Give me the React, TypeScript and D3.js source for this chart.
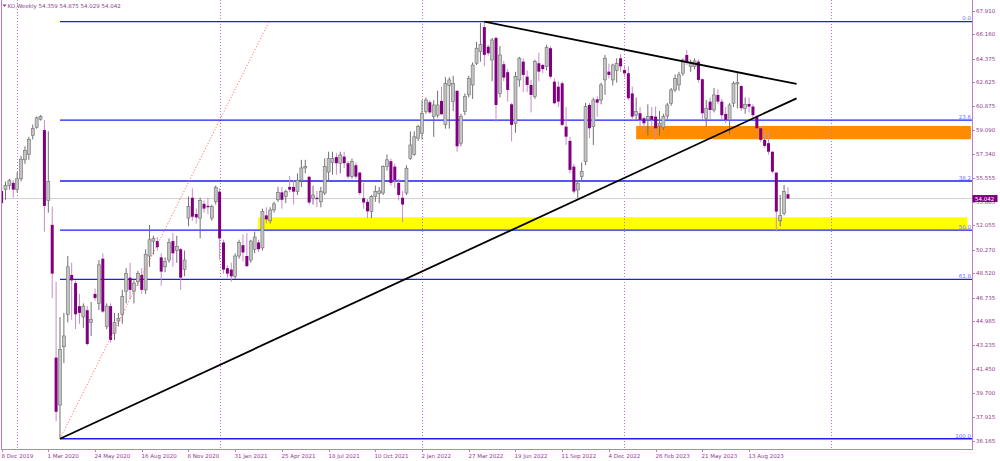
import React from "react";
import * as d3 from "d3";

const W = 1000;
const H = 461;

// Weekly bars, bar 0 = week of 8 Dec 2019. [open, high, low, close]
type Bar = [number, number, number, number];
const bars2019_2020: Bar[] = [
  [54.6, 54.9, 53.5, 53.7], [54.7, 55.3, 53.95, 55.0], [55.0, 55.5, 54.7, 55.4], [55.2, 55.4, 54.1, 54.7],
  [54.7, 56.0, 54.5, 55.5], [55.5, 57.2, 55.3, 56.95], [56.9, 57.9, 56.6, 57.6], [57.3, 58.6, 56.9, 58.4],
  [58.7, 59.5, 58.4, 59.2], [59.3, 60.1, 59.2, 60.0], [59.9, 60.2, 59.8, 60.1], [59.1, 59.85, 51.6, 53.5],
  [53.9, 59.0, 53.0, 55.3], [52.1, 53.45, 46.7, 48.5], [42.3, 47.9, 37.6, 38.3], [38.8, 45.3, 36.31, 42.9],
  [43.1, 45.6, 41.9, 43.9], [45.5, 49.8, 44.9, 49.0], [48.4, 49.3, 45.1, 48.0], [47.8, 48.0, 44.4, 45.5],
  [46.1, 47.0, 44.8, 45.6], [45.3, 46.3, 44.5, 46.1], [45.8, 46.1, 43.2, 43.3], [44.9, 46.4, 43.9, 45.1],
  [47.0, 47.4, 46.5, 46.7], [46.3, 49.5, 45.8, 49.15], [49.6, 50.0, 45.6, 45.7], [44.6, 46.3, 44.4, 46.1],
  [46.1, 46.3, 43.4, 43.6], [44.1, 45.6, 43.6, 44.9], [45.0, 45.6, 44.6, 45.2], [45.5, 47.3, 44.8, 46.8],
  [47.2, 48.9, 46.3, 48.5], [48.2, 49.3, 46.6, 47.3], [47.2, 48.0, 46.3, 47.8], [47.9, 48.7, 47.6, 48.5],
  [48.4, 48.9, 47.0, 47.3], [47.3, 50.3, 47.0, 49.9], [49.8, 52.1, 49.0, 51.0], [50.9, 51.3, 49.9, 51.1],
  [50.9, 51.2, 50.2, 50.45], [49.7, 50.0, 47.6, 48.65], [49.0, 49.7, 48.6, 49.4], [49.5, 51.1, 49.3, 50.8],
  [50.9, 51.5, 49.0, 50.0], [50.2, 51.3, 49.3, 50.5], [50.3, 50.4, 47.3, 48.2], [48.8, 50.2, 48.3, 49.5],
  [52.6, 54.2, 52.0, 53.45], [54.1, 54.8, 52.4, 52.7], [52.9, 53.3, 52.2, 52.65], [52.6, 54.1, 51.1, 53.9],
  [53.65, 53.9, 53.0, 53.3], [53.5, 54.1, 52.9, 53.4], [52.6, 53.6, 52.4, 53.45], [53.8, 55.0, 53.6, 54.85],
];
const bars2021: Bar[] = [
  [54.55, 54.8, 49.5, 51.1], [50.8, 51.0, 48.5, 48.8], [48.9, 49.1, 48.2, 48.5], [48.8, 49.3, 47.9, 48.3],
  [48.3, 50.0, 48.1, 49.8], [49.8, 51.0, 49.6, 50.8], [50.6, 51.4, 49.4, 50.06], [49.8, 51.5, 49.0, 49.05],
  [49.5, 51.0, 49.3, 50.9], [50.3, 51.6, 50.0, 51.2], [50.8, 51.0, 50.1, 50.3], [50.4, 53.3, 50.2, 53.1],
  [52.8, 53.4, 52.2, 52.5], [52.4, 53.4, 52.2, 53.2], [53.2, 53.8, 53.0, 53.65], [53.95, 54.9, 53.8, 54.5],
  [54.5, 54.9, 53.3, 53.95], [54.2, 54.7, 53.7, 54.55], [54.9, 55.7, 54.5, 54.7], [54.9, 55.4, 53.6, 54.55],
  [54.55, 55.9, 54.3, 55.4], [55.4, 56.9, 54.9, 56.3], [56.3, 56.9, 55.9, 56.4], [55.65, 55.7, 53.6, 53.75],
  [54.07, 55.0, 53.6, 54.3], [54.1, 54.6, 53.4, 54.0], [53.8, 54.9, 53.4, 54.55], [54.45, 57.0, 54.3, 56.4],
  [56.0, 57.5, 55.3, 57.0], [56.7, 57.5, 55.8, 57.0], [57.1, 57.4, 55.8, 56.65], [56.65, 57.5, 55.9, 57.26],
  [57.14, 57.5, 56.3, 56.65], [56.65, 56.8, 55.5, 55.66], [55.66, 57.0, 55.5, 56.77], [56.5, 56.7, 55.5, 55.66],
  [55.96, 56.0, 54.3, 54.45], [54.07, 55.2, 53.3, 53.75], [53.8, 54.0, 52.6, 53.1], [53.08, 54.3, 52.6, 54.2],
  [54.2, 55.0, 53.8, 54.56], [54.4, 54.9, 53.7, 54.6], [54.45, 56.5, 54.3, 56.4], [56.4, 57.3, 56.1, 56.9],
  [56.8, 57.0, 55.0, 55.2], [56.4, 56.6, 54.8, 55.4], [55.2, 55.5, 53.9, 54.3], [54.1, 54.6, 52.3, 53.6],
  [54.45, 56.5, 54.3, 56.28], [57.0, 59.0, 56.9, 58.0], [57.3, 59.0, 57.2, 58.6], [58.5, 59.5, 58.3, 59.35],
];
const bars2022: Bar[] = [
  [58.86, 61.3, 58.4, 60.34], [60.46, 61.5, 60.3, 61.32], [61.15, 61.3, 60.3, 60.4], [60.1, 61.3, 58.6, 60.95],
  [60.2, 62.0, 60.0, 60.95], [61.25, 62.3, 60.2, 60.27], [59.5, 63.0, 59.2, 62.55], [62.4, 63.0, 59.2, 62.8],
  [61.2, 63.1, 60.5, 62.55], [62.0, 62.0, 57.5, 57.9], [58.13, 60.3, 57.9, 60.09], [60.46, 61.8, 60.2, 61.57],
  [61.7, 63.1, 61.5, 62.9], [62.43, 64.1, 61.4, 63.9], [64.03, 65.6, 63.9, 65.14], [64.9, 67.0, 64.15, 65.4],
  [66.7, 67.1, 63.8, 64.65], [65.25, 65.4, 64.6, 64.77], [64.27, 65.9, 62.7, 65.75], [65.9, 66.0, 59.7, 60.95],
  [61.8, 65.3, 61.5, 64.64], [63.96, 64.2, 62.7, 62.97], [63.37, 63.6, 61.2, 62.06], [61.0, 61.1, 58.25, 59.48],
  [59.6, 63.4, 58.9, 63.04], [62.8, 64.5, 62.3, 64.4], [64.15, 64.4, 61.9, 63.17], [63.04, 63.5, 61.9, 62.43],
  [62.43, 62.8, 60.4, 61.69], [61.57, 64.3, 61.4, 64.15], [64.03, 64.8, 62.7, 63.41], [63.9, 64.0, 63.3, 63.6],
  [63.78, 65.4, 63.5, 65.19], [65.14, 65.3, 62.9, 63.04], [62.67, 62.9, 61.0, 61.08], [62.3, 62.7, 60.8, 61.2],
  [62.55, 62.7, 59.4, 59.48], [59.35, 60.8, 58.0, 58.61], [58.3, 58.6, 55.9, 56.16], [56.4, 56.6, 54.4, 54.56],
  [54.68, 55.4, 54.07, 55.18], [55.66, 56.7, 55.3, 56.03], [56.77, 61.1, 56.5, 60.83], [60.95, 61.1, 58.5, 59.23],
  [59.35, 61.5, 58.0, 61.32], [61.37, 61.6, 60.09, 61.12], [61.32, 62.6, 61.0, 62.43], [62.8, 64.64, 61.7, 64.4],
  [63.41, 64.0, 62.9, 63.17], [62.8, 64.0, 62.4, 63.9], [63.5, 64.4, 62.6, 64.0], [64.4, 64.7, 63.4, 63.8],
];
const bars2023: Bar[] = [
  [63.53, 63.9, 63.0, 63.29], [63.29, 63.8, 61.3, 61.45], [61.8, 62.3, 59.85, 60.09], [60.2, 61.5, 59.85, 60.46],
  [60.34, 60.8, 59.3, 59.85], [59.97, 60.1, 59.0, 59.6], [59.9, 61.0, 58.7, 60.1], [60.14, 60.8, 59.1, 59.85],
  [60.09, 60.83, 58.37, 59.23], [59.4, 60.5, 58.7, 59.6], [59.3, 60.3, 59.1, 60.09], [60.14, 61.1, 59.9, 60.95],
  [61.08, 62.2, 60.9, 62.06], [62.06, 63.2, 61.9, 62.92], [62.43, 63.4, 62.0, 63.17], [63.29, 64.4, 63.1, 64.27],
  [64.64, 65.0, 63.9, 64.07], [63.78, 64.3, 63.4, 64.07], [63.8, 64.4, 63.6, 64.2], [64.15, 64.3, 62.6, 62.8],
  [62.85, 62.9, 59.9, 60.34], [59.97, 61.32, 59.35, 60.71], [61.2, 61.5, 59.9, 60.58], [60.58, 62.2, 60.4, 61.69],
  [61.69, 62.1, 61.0, 61.2], [61.2, 61.4, 59.9, 60.2], [60.29, 60.8, 59.6, 59.85], [59.85, 61.1, 58.8, 60.95],
  [61.08, 62.7, 60.8, 62.55], [62.5, 63.3, 60.7, 62.6], [62.35, 62.4, 60.5, 60.71], [60.7, 61.5, 60.3, 61.0],
  [61.02, 61.5, 60.4, 60.83], [60.83, 61.0, 59.9, 60.2], [60.09, 60.2, 59.1, 59.23], [59.23, 59.4, 58.2, 58.37],
  [58.37, 59.0, 57.8, 57.93], [58.13, 59.0, 57.3, 57.5], [57.5, 57.5, 55.9, 56.03], [55.96, 55.96, 51.6, 53.08],
  [52.4, 54.3, 52.0, 52.8], [52.96, 55.05, 52.8, 54.56], [54.359, 54.875, 54.029, 54.042],
];

const priceTicks = ["67.910", "66.160", "64.375", "62.625", "60.875", "59.090", "57.340", "55.555", "53.805",
  "52.055", "50.270", "48.520", "46.735", "44.985", "43.235", "41.450", "39.700", "37.915", "36.165"];
const dateTicks = ["8 Dec 2019", "1 Mar 2020", "24 May 2020", "16 Aug 2020", "8 Nov 2020", "31 Jan 2021",
  "25 Apr 2021", "18 Jul 2021", "10 Oct 2021", "2 Jan 2022", "27 Mar 2022", "19 Jun 2022", "11 Sep 2022",
  "4 Dec 2022", "26 Feb 2023", "21 May 2023", "13 Aug 2023"];
const weeksPerDateTick = 12;
const yearStartBars = [4, 56, 108, 160, 213];

// Fibonacci retracement
const fibHigh = 67.1;
const fibLow = 36.31;
const fibStartBar = 15;
const fibLevels = [0, 23.6, 38.2, 50, 61.8, 100];
const fibLabels = ["0.0", "23.6", "38.2", "50.0", "61.8", "100.0"];

// Trend lines [bar, price]
const supportLine: [number, number][] = [[15, 36.31], [204.2, 61.44]];
const resistanceLine: [number, number][] = [[124, 67.1], [204.2, 62.5]];
const fibDiagonal: [number, number][] = [[15, 36.31], [68.7, 67.1]];

// Zones [startBar, endBar, lowPrice, highPrice]
const orangeZone = [163, 249, 58.42, 59.4];
const yellowZone = [65.9, 248.1, 51.77, 52.66];

const header = "KO,Weekly  54.359 54.875 54.029 54.042";
const lastPrice = "54.042";

const candles: Bar[] = [...bars2019_2020, ...bars2021, ...bars2022, ...bars2023];

const PLOT_L = 1;
const PLOT_R = 972;
const PLOT_B = 449;

const x = d3.scaleLinear().domain([0, 100]).range([1.6, 1.6 + 100 * 3.893]);
const y = d3.scaleLinear().domain([36.165, 67.91]).range([440.7, 10.7]);

const FONT = "'DejaVu Sans', Verdana, sans-serif";
const FS = 5.5;
const AXIS_COLOR = "#c07cc6";
const TEXT_COLOR = "#8c3a8c";
const FIB_COLOR = "#1c1cff";

export default function App() {
  const line = d3.line<[number, number]>().x((d) => x(d[0])).y((d) => y(d[1]));
  const bw = 3;
  const lp = +lastPrice;
  const boxTop = y(lp) - 3.5;
  const boxBot = y(lp) + 3.5;
  return (
    <svg width={W} height={H} style={{ position: "fixed", left: 0, top: 0, background: "#fff" }}
      fontFamily={FONT}>
      <defs>
        <clipPath id="plot"><rect x={PLOT_L} y={0} width={PLOT_R - PLOT_L} height={PLOT_B} /></clipPath>
        <clipPath id="belowBox"><rect x={PLOT_R} y={boxBot} width={W - PLOT_R} height={H - boxBot} /></clipPath>
      </defs>
      <rect x={0} y={0} width={W} height={H} fill="#fff" />
      <g clipPath="url(#plot)">
        {/* zones */}
        <rect x={x(orangeZone[0])} width={x(orangeZone[1]) - x(orangeZone[0])}
          y={y(orangeZone[3])} height={y(orangeZone[2]) - y(orangeZone[3])} fill="#ff8c00" />
        <rect x={x(yellowZone[0])} width={x(yellowZone[1]) - x(yellowZone[0])}
          y={y(yellowZone[3])} height={y(yellowZone[2]) - y(yellowZone[3])} fill="#ffff00" />
        {/* year separators */}
        {yearStartBars.map((b) => (
          <line key={b} x1={Math.round(x(b)) + 0.5} x2={Math.round(x(b)) + 0.5} y1={0} y2={PLOT_B}
            stroke="#c070c8" strokeWidth={1} strokeDasharray="1,2" />
        ))}
        {/* bid line */}
        <line x1={PLOT_L} x2={PLOT_R} y1={y(lp)} y2={y(lp)} stroke="#d0d0d0" strokeWidth={1} />
        {/* fib levels */}
        {fibLevels.map((lv, i) => {
          const p = fibHigh - (fibHigh - fibLow) * lv / 100;
          return (
            <g key={lv}>
              <line x1={x(fibStartBar)} x2={PLOT_R} y1={y(p)} y2={y(p)} stroke={FIB_COLOR} strokeWidth={1.3} />
              <text x={PLOT_R - 1} y={y(p) - 1.2} textAnchor="end" fontSize={FS} fill="#6b6bff">{fibLabels[i]}</text>
            </g>
          );
        })}
        {/* candles */}
        {candles.map((c, i) => {
          const [o, h, l, cl] = c;
          const cx = x(i);
          const up = cl >= o;
          const top = y(Math.max(o, cl));
          const bot = y(Math.min(o, cl));
          return (
            <g key={i}>
              <line x1={cx} x2={cx} y1={y(h)} y2={y(l)} stroke={up ? "#707070" : "#c98bcb"} strokeWidth={1} />
              <rect x={cx - bw / 2} y={top} width={bw} height={Math.max(0.8, bot - top)}
                fill={up ? "#c3c3c3" : "#800080"} stroke={up ? "#6f6f6f" : "none"} strokeWidth={0.6} />
            </g>
          );
        })}
        {/* trend lines */}
        <path d={line(fibDiagonal) || ""} stroke="#ff5a5a" strokeWidth={1} strokeDasharray="1,2" fill="none" />
        <path d={line(supportLine) || ""} stroke="#000" strokeWidth={1.8} fill="none" />
        <path d={line(resistanceLine) || ""} stroke="#000" strokeWidth={1.8} fill="none" />
      </g>
      {/* frame */}
      <line x1={PLOT_L + 0.5} x2={PLOT_L + 0.5} y1={0} y2={PLOT_B} stroke={AXIS_COLOR} />
      <line x1={PLOT_R + 0.5} x2={PLOT_R + 0.5} y1={0} y2={PLOT_B} stroke={AXIS_COLOR} />
      <line x1={PLOT_L} x2={PLOT_R + 1} y1={PLOT_B + 0.5} y2={PLOT_B + 0.5} stroke={AXIS_COLOR} />
      {/* price axis */}
      {priceTicks.map((t) => {
        const ty = y(+t);
        const hidden = ty + 2 > boxTop && ty - 2 < boxBot;
        return (
          <g key={t}>
            <line x1={PLOT_R} x2={PLOT_R + 3} y1={Math.round(ty) + 0.5} y2={Math.round(ty) + 0.5} stroke={AXIS_COLOR} />
            <text x={PLOT_R + 4} y={ty + 2} fontSize={FS} fill={TEXT_COLOR}
              clipPath={hidden ? "url(#belowBox)" : undefined}>{t}</text>
          </g>
        );
      })}
      {/* last price box */}
      <rect x={PLOT_R + 0.5} y={boxTop} width={25} height={7} fill="#800080" />
      <text x={PLOT_R + 3} y={y(lp) + 2} fontSize={FS} fill="#fff">{lastPrice}</text>
      {/* date axis */}
      {dateTicks.map((t, i) => {
        const tx = Math.round(x(i * weeksPerDateTick)) + 0.5;
        return (
          <g key={t}>
            <line x1={tx} x2={tx} y1={PLOT_B} y2={PLOT_B + 3} stroke={AXIS_COLOR} />
            <text x={tx - 1} y={PLOT_B + 8.5} fontSize={FS} fill={TEXT_COLOR}>{t}</text>
          </g>
        );
      })}
      {/* header */}
      <path d="M2.5,4.5 L6.5,4.5 L4.5,7 Z" fill={TEXT_COLOR} />
      <text x={7.5} y={8} fontSize={FS} fill={TEXT_COLOR}>{header}</text>
    </svg>
  );
}
